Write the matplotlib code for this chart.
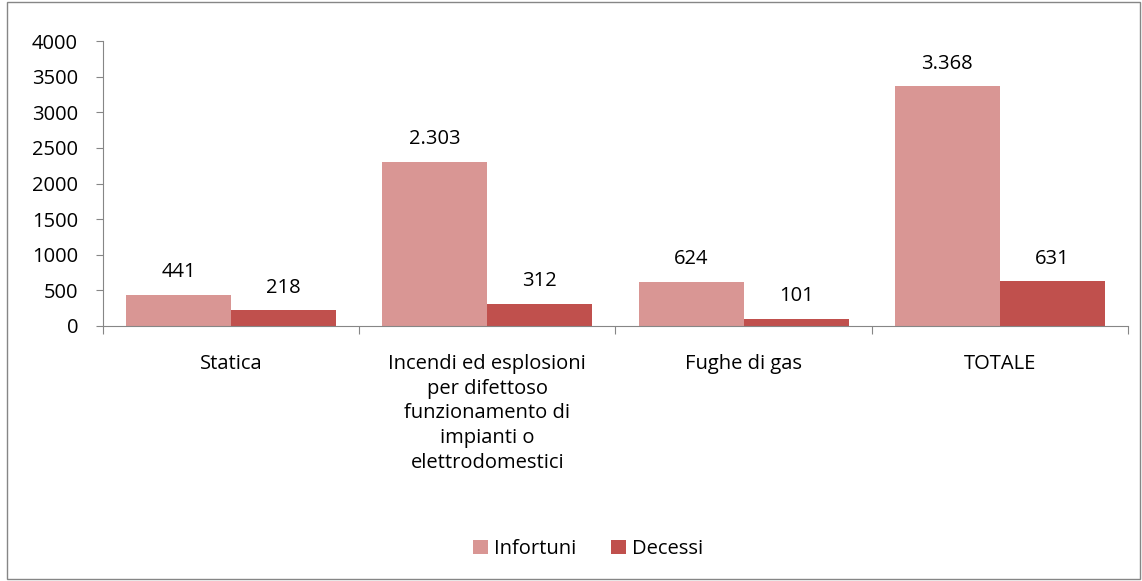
import numpy as np
import matplotlib.pyplot as plt
from matplotlib.patches import Rectangle

categorie = ["Statica",
             "Incendi ed esplosioni\nper difettoso\nfunzionamento di\nimpianti o\nelettrodomestici",
             "Fughe di gas",
             "TOTALE"]
infortuni = [441, 2303, 624, 3368]
decessi = [218, 312, 101, 631]
etichette_inf = ["441", "2.303", "624", "3.368"]
etichette_dec = ["218", "312", "101", "631"]

plt.rcParams['font.family'] = ['Open Sans', 'DejaVu Sans']
fs = 14.5

fig = plt.figure(figsize=(11.42, 5.81), dpi=100)
ax = fig.add_axes([0.0902, 0.4389, 0.8975, 0.4905])

# bordo esterno del grafico
fig.patches.append(Rectangle((0.006, 0.003), 0.992, 0.994, transform=fig.transFigure,
                             fill=False, edgecolor='#868686', linewidth=1))

x = np.arange(len(categorie))
w = 0.41
b1 = ax.bar(x - w / 2, infortuni, w, color='#D99694', label='Infortuni')
b2 = ax.bar(x + w / 2, decessi, w, color='#C0504D', label='Decessi')

for rect, lab in zip(b1, etichette_inf):
    ax.annotate(lab, (rect.get_x() + rect.get_width() / 2, rect.get_height()),
                xytext=(0, 9), textcoords='offset points', ha='center', va='bottom', fontsize=fs)
for rect, lab in zip(b2, etichette_dec):
    ax.annotate(lab, (rect.get_x() + rect.get_width() / 2, rect.get_height()),
                xytext=(0, 9), textcoords='offset points', ha='center', va='bottom', fontsize=fs)

ax.set_xlim(-0.5, len(categorie) - 0.5)
ax.set_ylim(0, 4000)
ax.set_yticks(np.arange(0, 4001, 500))
ax.tick_params(axis='y', labelsize=fs, length=5, color='#868686', pad=13)

ax.set_xticks(np.arange(-0.5, len(categorie), 1))
ax.set_xticklabels([])
ax.set_xticks(x, minor=True)
ax.set_xticklabels(categorie, minor=True, fontsize=fs, linespacing=1.32)
ax.tick_params(axis='x', which='minor', length=0, pad=20)
ax.tick_params(axis='x', which='major', length=6, color='#868686')

for s in ['top', 'right']:
    ax.spines[s].set_visible(False)
for s in ['left', 'bottom']:
    ax.spines[s].set_color('#868686')

fig.legend(handles=[b1, b2], loc='center', bbox_to_anchor=(0.515, 0.055), ncol=2,
           frameon=False, fontsize=fs, handlelength=0.75, handleheight=0.75,
           handletextpad=0.3, columnspacing=1.7)

plt.savefig('out.png', dpi=100)
